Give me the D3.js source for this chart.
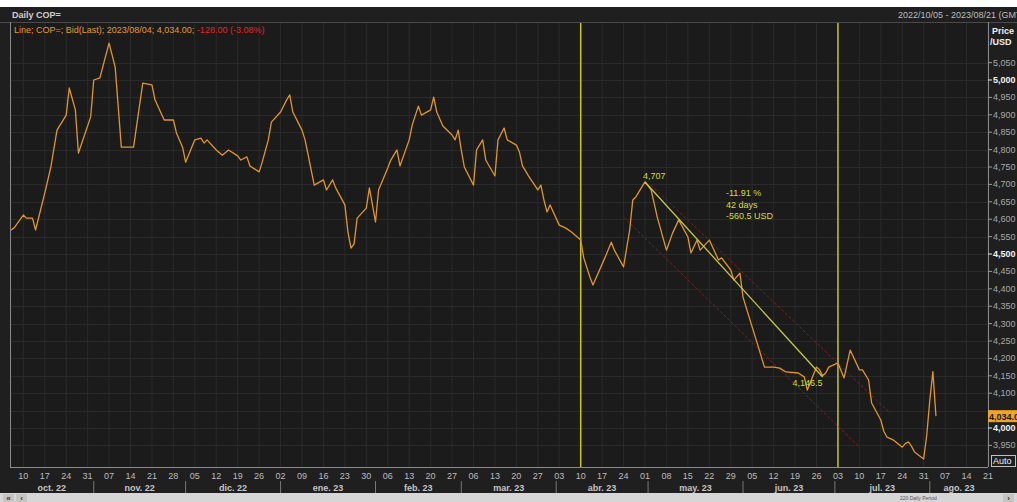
<!DOCTYPE html>
<html>
<head>
<meta charset="utf-8">
<script src="https://cdn.jsdelivr.net/npm/d3@7.9.0/dist/d3.min.js"></script>
<style>
  html, body { margin: 0; padding: 0; background: #fff; }
  svg { display: block; font-family: "Liberation Sans", Arial, sans-serif; }
</style>
</head>
<body>
<svg id="chart" width="1017" height="502"></svg>
<script>
// daily COP= bid
const dates = [
  "2022-10-05","2022-10-07","2022-10-10","2022-10-11","2022-10-13","2022-10-14","2022-10-17","2022-10-19","2022-10-21","2022-10-24",
  "2022-10-25","2022-10-27","2022-10-28","2022-11-01","2022-11-02","2022-11-04","2022-11-07","2022-11-09","2022-11-11","2022-11-15",
  "2022-11-18","2022-11-21","2022-11-22","2022-11-25","2022-11-28","2022-11-29","2022-12-01","2022-12-02","2022-12-05","2022-12-07",
  "2022-12-08","2022-12-09","2022-12-12","2022-12-14","2022-12-16","2022-12-19","2022-12-20","2022-12-22","2022-12-23","2022-12-26",
  "2022-12-27","2022-12-29","2022-12-30","2023-01-02","2023-01-04","2023-01-05","2023-01-06","2023-01-09","2023-01-10","2023-01-12",
  "2023-01-13","2023-01-16","2023-01-17","2023-01-19","2023-01-20","2023-01-23","2023-01-24","2023-01-25","2023-01-26","2023-01-27",
  "2023-01-30","2023-01-31","2023-02-02","2023-02-03","2023-02-06","2023-02-07","2023-02-09","2023-02-10","2023-02-13","2023-02-14",
  "2023-02-16","2023-02-17","2023-02-20","2023-02-21","2023-02-22","2023-02-24","2023-02-27","2023-02-28","2023-03-01","2023-03-02",
  "2023-03-03","2023-03-06","2023-03-07","2023-03-09","2023-03-10","2023-03-13","2023-03-14","2023-03-16","2023-03-17","2023-03-20",
  "2023-03-21","2023-03-22","2023-03-24","2023-03-27","2023-03-28","2023-03-29","2023-03-30","2023-03-31","2023-04-03","2023-04-05",
  "2023-04-07","2023-04-10","2023-04-11","2023-04-13","2023-04-14","2023-04-18","2023-04-20","2023-04-21","2023-04-24","2023-04-26",
  "2023-04-27","2023-04-28","2023-05-01","2023-05-03","2023-05-05","2023-05-08","2023-05-10","2023-05-12","2023-05-15","2023-05-16",
  "2023-05-18","2023-05-19","2023-05-22","2023-05-25","2023-05-26","2023-05-29","2023-05-30","2023-06-01","2023-06-02","2023-06-05",
  "2023-06-07","2023-06-09","2023-06-12","2023-06-14","2023-06-16","2023-06-20","2023-06-22","2023-06-23","2023-06-26","2023-06-27",
  "2023-06-28","2023-06-29","2023-06-30","2023-07-03","2023-07-05","2023-07-07","2023-07-10","2023-07-11","2023-07-13","2023-07-14",
  "2023-07-17","2023-07-18","2023-07-19","2023-07-21","2023-07-24","2023-07-25","2023-07-26","2023-07-27","2023-07-28","2023-07-31",
  "2023-08-01","2023-08-02","2023-08-03","2023-08-04"
];
const prices = [
  4563,4575,4612,4603,4603,4569,4675,4750,4856,4899,
  4977,4914,4790,4894,5000,5006,5106,5037,4807,4807,
  4991,4986,4943,4885,4885,4848,4807,4764,4828,4833,
  4819,4828,4799,4784,4799,4782,4770,4779,4753,4736,
  4764,4828,4879,4908,4943,4957,4908,4856,4828,4741,
  4698,4713,4684,4713,4690,4641,4563,4517,4529,4603,
  4632,4690,4592,4684,4747,4770,4799,4753,4828,4871,
  4925,4899,4914,4951,4908,4868,4842,4828,4856,4799,
  4750,4698,4799,4828,4770,4724,4828,4862,4828,4813,
  4793,4753,4724,4684,4698,4655,4621,4641,4583,4575,
  4563,4540,4489,4434,4411,4491,4534,4511,4463,4569,
  4655,4664,4707,4684,4606,4511,4560,4598,4549,4503,
  4540,4511,4540,4483,4489,4454,4425,4445,4376,4290,
  4233,4175,4175,4172,4161,4158,4147,4109,4175,4167,
  4150,4158,4175,4187,4144,4224,4167,4167,4138,4072,
  4023,3990,3974,3966,3945,3955,3960,3948,3931,3911,
  3980,4080,4162,4034
];

// drawing tools on the chart
const markerDates = ["2023-04-10", "2023-07-03"];
const trendStart = ["2023-05-01", 4707];
const trendEnd = ["2023-06-28", 4146.5];
const trendText = ["-11.91 %", "42 days", "-560.5 USD"];
const channelUpper = [["2023-05-03", 4698], ["2023-07-20", 4043]];
const channelLower = [["2023-04-24", 4606], ["2023-07-10", 3945]];

const monthNames = ["oct.", "nov.", "dic.", "ene.", "feb.", "mar.", "abr.", "may.", "jun.", "jul.", "ago."];
const yTicks = d3.range(3950, 5051, 50);
const legendMain = "Line; COP=; Bid(Last); 2023/08/04; 4,034.00;";
const legendChange = "-128.00 (-3.08%)";

const W = 1017, H = 502;
const plot = { left: 10, right: 988, top: 22, bottom: 467 };

const parse = d3.timeParse("%Y-%m-%d");
const series = dates.map((d, i) => ({ date: parse(d), value: prices[i] }));

const x = d3.scaleTime()
  .domain([parse("2022-10-05"), parse("2023-08-21")])
  .range([8, 988]);
const y = d3.scaleLinear()
  .domain([4000, 5000])
  .range([428, 80]);

const svg = d3.select("#chart");
const fmt = d3.format(",");

// background
svg.append("rect").attr("width", W).attr("height", H).attr("fill", "#1f1f1f");
svg.append("rect").attr("width", W).attr("height", 7).attr("fill", "#ffffff");
svg.append("rect").attr("x", plot.left).attr("y", plot.top)
  .attr("width", plot.right - plot.left).attr("height", plot.bottom - plot.top)
  .attr("fill", "#1b1b1b");

svg.append("defs").append("clipPath").attr("id", "clip")
  .append("rect").attr("x", plot.left).attr("y", plot.top)
  .attr("width", plot.right - plot.left).attr("height", plot.bottom - plot.top);

const g = svg.append("g").attr("clip-path", "url(#clip)");

// grid
const weeks = d3.timeMonday.range(parse("2022-10-10"), parse("2023-08-22"));
g.selectAll(".vgrid").data(weeks).enter().append("line")
  .attr("x1", d => x(d)).attr("x2", d => x(d))
  .attr("y1", plot.top).attr("y2", plot.bottom)
  .attr("stroke", "#2a2a2a").attr("stroke-width", 1);
g.selectAll(".hgrid").data(yTicks).enter().append("line")
  .attr("x1", plot.left).attr("x2", plot.right)
  .attr("y1", d => Math.round(y(d)) + 0.5).attr("y2", d => Math.round(y(d)) + 0.5)
  .attr("stroke", "#2a2a2a").attr("stroke-width", 1);

// vertical marker lines
g.selectAll(".marker").data(markerDates).enter().append("line")
  .attr("x1", d => x(parse(d))).attr("x2", d => x(parse(d)))
  .attr("y1", plot.top).attr("y2", plot.bottom)
  .attr("stroke", "#c6c81c").attr("stroke-width", 1.5);

// regression channel
[channelUpper, channelLower].forEach(c => {
  g.append("line")
    .attr("x1", x(parse(c[0][0]))).attr("y1", y(c[0][1]))
    .attr("x2", x(parse(c[1][0]))).attr("y2", y(c[1][1]))
    .attr("stroke", "#7c2020").attr("stroke-width", 1)
    .attr("stroke-dasharray", "3,2");
});

// price line
const line = d3.line().x(d => x(d.date)).y(d => y(d.value));
g.append("path").datum(series)
  .attr("d", line)
  .attr("fill", "none")
  .attr("stroke", "#e0962a")
  .attr("stroke-width", 1.3)
  .attr("stroke-linejoin", "round");

// trend line and its labels
const tx1 = x(parse(trendStart[0])), ty1 = y(trendStart[1]);
const tx2 = x(parse(trendEnd[0])), ty2 = y(trendEnd[1]);
g.append("line")
  .attr("x1", tx1).attr("y1", ty1).attr("x2", tx2).attr("y2", ty2)
  .attr("stroke", "#c4c84c").attr("stroke-width", 1.3);

const annColor = "#d4dc38";
g.append("text").attr("x", tx1 - 2).attr("y", ty1 - 3)
  .attr("fill", annColor).attr("font-size", 9)
  .text(fmt(trendStart[1]));
g.append("text").attr("x", tx2).attr("y", ty2 + 9)
  .attr("text-anchor", "end")
  .attr("fill", annColor).attr("font-size", 9)
  .text(d3.format(",.1f")(trendEnd[1]));
g.selectAll(".ann").data(trendText).enter().append("text")
  .attr("x", 726).attr("y", (d, i) => 196 + i * 11.5)
  .attr("fill", annColor).attr("font-size", 9)
  .text(d => d);

// plot borders
svg.append("line").attr("x1", 0).attr("x2", W).attr("y1", 22.5).attr("y2", 22.5)
  .attr("stroke", "#4a4a4a");
svg.append("line").attr("x1", plot.left + 0.5).attr("x2", plot.left + 0.5)
  .attr("y1", plot.top).attr("y2", plot.bottom)
  .attr("stroke", "#8a8a8a");
svg.append("line").attr("x1", plot.right + 0.5).attr("x2", plot.right + 0.5)
  .attr("y1", plot.top).attr("y2", plot.bottom)
  .attr("stroke", "#8a8a8a");
svg.append("line").attr("x1", plot.left).attr("x2", plot.right)
  .attr("y1", plot.bottom + 0.5).attr("y2", plot.bottom + 0.5)
  .attr("stroke", "#8a8a8a");

// header
svg.append("text").attr("x", 12).attr("y", 18)
  .attr("fill", "#cfcfcf").attr("font-size", 9).attr("font-weight", "bold")
  .text("Daily COP=");
svg.append("text").attr("x", 898).attr("y", 18)
  .attr("fill", "#bdbdbd").attr("font-size", 9)
  .text("2022/10/05 - 2023/08/21 (GMT)");

const legend = svg.append("text").attr("x", 14).attr("y", 33).attr("font-size", 9);
legend.append("tspan").attr("fill", "#e39a30").text(legendMain + " ");
legend.append("tspan").attr("fill", "#e02626").text(legendChange);

// right price axis
svg.append("text").attr("x", 992).attr("y", 34)
  .attr("fill", "#f0f0f0").attr("font-size", 9).attr("font-weight", "bold").text("Price");
svg.append("text").attr("x", 990).attr("y", 45)
  .attr("fill", "#f0f0f0").attr("font-size", 9).attr("font-weight", "bold").text("/USD");

const last = series[series.length - 1];
const tagY = y(last.value);

const yAxis = svg.append("g");
yTicks.forEach(v => {
  const major = v % 500 === 0;
  yAxis.append("line")
    .attr("x1", plot.right).attr("x2", plot.right + 4)
    .attr("y1", y(v)).attr("y2", y(v))
    .attr("stroke", major ? "#e8e8e8" : "#9a9a9a");
  // the last-price tag hides the label under it
  if (Math.abs(y(v) - tagY) < 10) return;
  yAxis.append("text")
    .attr("x", plot.right + 5).attr("y", y(v) + 3)
    .attr("fill", major ? "#f2f2f2" : "#a8a8a8")
    .attr("font-size", 9)
    .attr("font-weight", major ? "bold" : "normal")
    .text(fmt(v));
});

// last price tag
svg.append("rect").attr("x", plot.right).attr("y", tagY - 6)
  .attr("width", W - plot.right).attr("height", 12).attr("fill", "#f0a324");
svg.append("text").attr("x", plot.right + 1).attr("y", tagY + 3.5)
  .attr("fill", "#1a1a1a").attr("font-size", 9).attr("font-weight", "bold")
  .text(d3.format(",.2f")(last.value));

// Auto box
svg.append("rect").attr("x", 991.5).attr("y", 455.5).attr("width", 24).attr("height", 11)
  .attr("fill", "none").attr("stroke", "#c0c0c0");
svg.append("text").attr("x", 993).attr("y", 464)
  .attr("fill", "#f0f0f0").attr("font-size", 9).text("Auto");

// bottom time axis: weeks
svg.selectAll(".wlab").data(weeks).enter().append("text")
  .attr("x", d => x(d)).attr("y", 479)
  .attr("text-anchor", "middle")
  .attr("fill", "#bcbcbc").attr("font-size", 9)
  .text(d3.timeFormat("%d"));

// months
const months = d3.timeMonth.range(parse("2022-10-01"), parse("2023-09-01"));
months.forEach((m, i) => {
  const sep = x(d3.timeDay.offset(m, 1));
  const next = x(d3.timeDay.offset(d3.timeMonth.offset(m, 1), 1));
  const a = Math.max(sep, plot.left), b = Math.min(next, plot.right);
  if (i > 0) {
    svg.append("line").attr("x1", sep).attr("x2", sep)
      .attr("y1", 481).attr("y2", 493)
      .attr("stroke", "#777").attr("stroke-width", 1);
  }
  svg.append("text").attr("x", (a + b) / 2).attr("y", 491)
    .attr("text-anchor", "middle")
    .attr("fill", "#c4c4c4").attr("font-size", 9).attr("font-weight", "bold")
    .text(monthNames[i] + " " + d3.timeFormat("%y")(m));
});

// scroll bar
svg.append("rect").attr("x", 0).attr("y", 493).attr("width", W).attr("height", 9).attr("fill", "#d6d6d6");
[[3, "«"], [16, "‹"]].forEach(([bx, s]) => {
  svg.append("rect").attr("x", bx).attr("y", 494).attr("width", 11).attr("height", 8).attr("fill", "#c4c4c4");
  svg.append("text").attr("x", bx + 5.5).attr("y", 501).attr("text-anchor", "middle")
    .attr("fill", "#333").attr("font-size", 8).attr("font-weight", "bold").text(s);
});
svg.append("rect").attr("x", 1003).attr("y", 494).attr("width", 11).attr("height", 8).attr("fill", "#c4c4c4");
svg.append("text").attr("x", 1008.5).attr("y", 501).attr("text-anchor", "middle")
  .attr("fill", "#333").attr("font-size", 8).attr("font-weight", "bold").text("›");
svg.append("text").attr("x", 900).attr("y", 500)
  .attr("fill", "#555").attr("font-size", 5).text("220 Daily Period");
</script>
</body>
</html>
